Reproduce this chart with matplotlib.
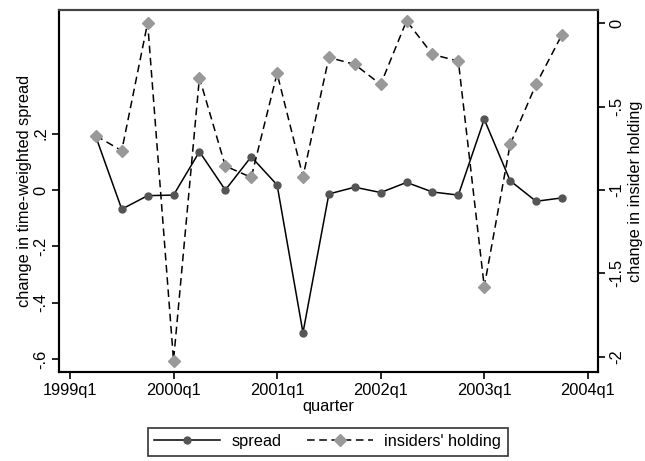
import numpy as np
import matplotlib
matplotlib.use("Agg")
import matplotlib.pyplot as plt
from matplotlib.lines import Line2D

plt.rcParams['font.family'] = ['Liberation Sans', 'DejaVu Sans']

# quarters 1999q2 .. 2003q4, counted from 1999q1 = 0
quarterIndex = list(range(1, 20))
spread = [0.189, -0.068, -0.020, -0.018, 0.136, 0.000, 0.118, 0.018, -0.506, -0.014,
          0.010, -0.009, 0.027, -0.007, -0.018, 0.251, 0.033, -0.040, -0.028]
insiders = [-0.674, -0.764, 0.004, -2.024, -0.326, -0.856, -0.924, -0.300, -0.920, -0.204,
            -0.246, -0.366, 0.016, -0.186, -0.226, -1.580, -0.726, -0.366, -0.068]

xTicks = [0, 4, 8, 12, 16, 20]
xTickLabels = ["1999q1", "2000q1", "2001q1", "2002q1", "2003q1", "2004q1"]
leftTicks = [0.2, 0.0, -0.2, -0.4, -0.6]
leftTickLabels = [".2", "0", "-.2", "-.4", "-.6"]
rightTicks = [0.0, -0.5, -1.0, -1.5, -2.0]
rightTickLabels = ["0", "-.5", "-1", "-1.5", "-2"]

fig = plt.figure(figsize=(6.45, 4.61), dpi=100)
ax = fig.add_axes([0.092, 0.194, 0.835, 0.784])
ax2 = ax.twinx()

ax.plot(quarterIndex, spread, color="black", lw=1.1, marker="o", ms=5,
        mfc="#555555", mec="#555555", zorder=3)
ax2.plot(quarterIndex, insiders, color="black", lw=1.1, dashes=(5, 3), marker="D", ms=6.5,
         mfc="#999999", mec="#999999", zorder=3)

ax.set_xlim(-0.41, 20.39)
ax.set_ylim(-0.644, 0.638)
ax2.set_ylim(-2.09, 0.08)

fontSize = 11.8
ax.set_xticks(xTicks)
ax.set_xticklabels(xTickLabels, fontsize=fontSize)
ax.set_yticks(leftTicks)
ax.set_yticklabels(leftTickLabels, fontsize=fontSize, rotation=90, va="center")
ax2.set_yticks(rightTicks)
ax2.set_yticklabels(rightTickLabels, fontsize=fontSize, rotation=90, va="center")

ax.tick_params(axis="both", direction="out", length=5, width=1.2, colors="black", pad=3)
ax2.tick_params(axis="y", direction="out", length=5, width=1.2, colors="black", pad=3)

ax.set_xlabel("quarter", fontsize=fontSize, labelpad=1)
ax.set_ylabel("change in time-weighted spread", fontsize=fontSize, labelpad=1)
ax2.set_ylabel("change in insider holding", fontsize=fontSize, labelpad=3)

for axis in (ax, ax2):
    for side in ("left", "bottom", "right"):
        axis.spines[side].set_linewidth(1.5)
        axis.spines[side].set_color("black")
    axis.spines["top"].set_color("#444444")
    axis.spines["top"].set_linewidth(1.5)

handles = [
    Line2D([], [], color="black", lw=1.1, marker="o", ms=5, mfc="#555555", mec="#555555"),
    Line2D([], [], color="black", lw=1.1, dashes=(5, 3), marker="D", ms=6.5,
           mfc="#999999", mec="#999999"),
]
leg = fig.legend(handles, ["spread", "insiders' holding"], loc="center",
                 bbox_to_anchor=(0.508, 0.042), ncol=2, fontsize=fontSize,
                 frameon=True, fancybox=False, handlelength=4.0, handletextpad=0.7,
                 columnspacing=1.6, borderpad=0.4, edgecolor="black")
leg.get_frame().set_linewidth(1.2)

fig.savefig("out.png", dpi=100)
